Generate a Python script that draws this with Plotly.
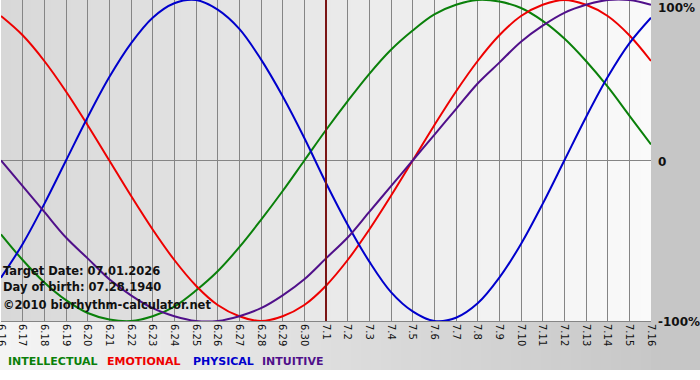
import plotly.graph_objects as go

days = list(range(31))
day_labels = ["6.16", "6.17", "6.18", "6.19", "6.20", "6.21", "6.22", "6.23", "6.24", "6.25",
              "6.26", "6.27", "6.28", "6.29", "6.30", "7.1", "7.2", "7.3", "7.4", "7.5",
              "7.6", "7.7", "7.8", "7.9", "7.10", "7.11", "7.12", "7.13", "7.14", "7.15", "7.16"]

intellectual = [-0.46, -0.62, -0.76, -0.87, -0.95, -0.99, -1.00, -0.97, -0.91, -0.81,
                -0.69, -0.54, -0.37, -0.19, 0.00, 0.19, 0.37, 0.54, 0.69, 0.81,
                0.91, 0.97, 1.00, 0.99, 0.95, 0.87, 0.76, 0.62, 0.46, 0.28, 0.10]
emotional = [0.90, 0.78, 0.62, 0.43, 0.22, 0.00, -0.22, -0.43, -0.62, -0.78,
             -0.90, -0.97, -1.00, -0.97, -0.90, -0.78, -0.62, -0.43, -0.22, 0.00,
             0.22, 0.43, 0.62, 0.78, 0.90, 0.97, 1.00, 0.97, 0.90, 0.78, 0.62]
physical = [-0.73, -0.52, -0.27, 0.00, 0.27, 0.52, 0.73, 0.89, 0.98, 1.00,
            0.94, 0.82, 0.63, 0.40, 0.14, -0.14, -0.40, -0.63, -0.82, -0.94,
            -1.00, -0.98, -0.89, -0.73, -0.52, -0.27, 0.00, 0.27, 0.52, 0.73, 0.89]
intuitive = [0.00, -0.16, -0.32, -0.48, -0.61, -0.74, -0.84, -0.92, -0.97, -1.00,
             -1.00, -0.97, -0.92, -0.84, -0.74, -0.61, -0.48, -0.32, -0.16, 0.00,
             0.16, 0.32, 0.48, 0.61, 0.74, 0.84, 0.92, 0.97, 1.00, 1.00, 0.97]

target_day = 15
info_lines = ["Target Date: 07.01.2026", "Day of birth: 07.28.1940", "\u00a92010 biorhythm-calculator.net"]

series = [
    ("INTELLECTUAL", intellectual, "#0a800a"),
    ("EMOTIONAL", emotional, "#ee0000"),
    ("PHYSICAL", physical, "#0000cc"),
    ("INTUITIVE", intuitive, "#50108a"),
]

W, H = 700, 380
ML, MR, MT, MB = 1, 49, 0, 59
PW, PH = W - ML - MR, H - MT - MB


def px_x(p):
    return (p - ML) / PW


def px_y(p):
    return 1 - (p - MT) / PH


def lerp(c1, c2, t):
    a = [int(c1[i:i + 2], 16) for i in (1, 3, 5)]
    b = [int(c2[i:i + 2], 16) for i in (1, 3, 5)]
    return "rgb(%d,%d,%d)" % tuple(round(a[k] + (b[k] - a[k]) * t) for k in range(3))


fig = go.Figure()
for name, vals, col in series:
    fig.add_trace(go.Scatter(x=days, y=vals, mode="lines", name=name,
                             line=dict(color=col, width=2, shape="spline", smoothing=1),
                             hoverinfo="skip"))

shapes = []
steps = 65
for i in range(steps):
    t = i / (steps - 1)
    x0 = ML + PW * i / steps
    x1 = ML + PW * (i + 1) / steps + 0.5
    shapes.append(dict(type="rect", xref="paper", yref="paper", layer="below",
                       x0=px_x(x0), x1=px_x(x1), y0=px_y(MT + PH), y1=px_y(MT),
                       line=dict(width=0), fillcolor=lerp("#d8d8d8", "#fafafa", t)))
    shapes.append(dict(type="rect", xref="paper", yref="paper", layer="below",
                       x0=px_x(x0 - 1 if i == 0 else x0), x1=px_x(x1), y0=px_y(370), y1=px_y(MT + PH),
                       line=dict(width=0), fillcolor=lerp("#f4f4f4", "#c8c8c8", t)))
shapes.append(dict(type="rect", xref="paper", yref="paper", layer="below",
                   x0=px_x(ML + PW), x1=px_x(W + 2), y0=px_y(370), y1=px_y(-2),
                   line=dict(width=0), fillcolor="#c6c6c6"))
shapes.append(dict(type="line", xref="x", yref="paper", x0=target_day, x1=target_day,
                   y0=0, y1=1, line=dict(color="#7a1414", width=2), layer="above"))

annotations = []
for txt, yp in zip(info_lines, [271, 287, 305]):
    annotations.append(dict(text="<b>%s</b>" % txt, xref="paper", yref="paper",
                            x=px_x(1), y=px_y(yp), xanchor="left", yanchor="middle",
                            showarrow=False, font=dict(family="DejaVu Sans", size=11.5, color="#111")))
for txt, yp in [("100%", 8), ("0", 162), ("-100%", 322)]:
    annotations.append(dict(text="<b>%s</b>" % txt, xref="paper", yref="paper",
                            x=px_x(656), y=px_y(yp), xanchor="left", yanchor="middle",
                            showarrow=False, font=dict(family="DejaVu Sans", size=12, color="#111")))
for (name, _, col), xp in zip(series, [6, 105, 191, 260]):
    annotations.append(dict(text="<b>%s</b>" % name, xref="paper", yref="paper",
                            x=px_x(xp), y=px_y(362), xanchor="left", yanchor="middle",
                            showarrow=False, font=dict(family="DejaVu Sans", size=11, color=col)))

fig.update_layout(
    width=W, height=H, margin=dict(l=ML, r=MR, t=MT, b=MB),
    paper_bgcolor="#ffffff", plot_bgcolor="rgba(0,0,0,0)",
    showlegend=False, shapes=shapes, annotations=annotations,
    xaxis=dict(range=[0, 30], tickvals=days, ticktext=day_labels, tickangle=90,
               showgrid=True, gridcolor="#858585", gridwidth=1, zeroline=False,
               showline=True, linecolor="#858585", linewidth=1, ticks="",
               ticklabeloverflow="allow",
               tickfont=dict(family="DejaVu Sans", size=10, color="#111"),
               automargin=False, fixedrange=True),
    yaxis=dict(range=[-1, 1], tickvals=[0], showticklabels=False, showgrid=True,
               gridcolor="#858585", gridwidth=1, zeroline=False, showline=False,
               automargin=False, fixedrange=True),
)

fig.write_html("out.html")
